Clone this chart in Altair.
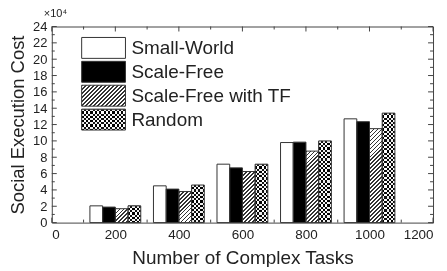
import altair as alt
import pandas as pd

# ---------------- data (values in units of 10^4) ----------------
tasks = [200, 400, 600, 800, 1000]
series = ["Small-World", "Scale-Free", "Scale-Free with TF", "Random"]
small_world = [2.05, 4.5, 7.15, 9.8, 12.7]
scale_free = [1.9, 4.1, 6.7, 9.85, 12.35]
scale_free_tf = [1.7, 3.8, 6.25, 8.75, 11.5]
random_net = [2.05, 4.6, 7.15, 10.0, 13.4]

x_ticks = [0, 200, 400, 600, 800, 1000, 1200]
x_minor = [100, 300, 500, 700, 900, 1100]
y_ticks = [0, 2, 4, 6, 8, 10, 12, 14, 16, 18, 20, 22, 24]
y_minor = [1, 3, 5, 7, 9, 11, 13, 15, 17, 19, 21, 23]

# ---------------- layout / style ----------------
W, H = 383, 197
X_DOMAIN = [0, 1200]
Y_DOMAIN = [0, 24]
BAR = 40  # bar width in task units
FONT = "Liberation Sans"
TXT = "#222222"
LINE = "#444444"
EDGE = "#333333"

values = [small_world, scale_free, scale_free_tf, random_net]
rows = []
for i, name in enumerate(series):
    for j, t in enumerate(tasks):
        x0 = t - 2 * BAR + i * BAR
        rows.append({"series": name, "task": t, "value": values[i][j],
                     "x0": x0, "x1": x0 + BAR})
df = pd.DataFrame(rows)

xs = alt.Scale(domain=X_DOMAIN, nice=False, zero=False)
ys = alt.Scale(domain=Y_DOMAIN, nice=False)

XAX = alt.Axis(values=x_ticks, format="d", title="Number of Complex Tasks",
               ticks=False, tickSize=0, domain=False, grid=False,
               labelFont=FONT, labelFontSize=13.5, labelColor=TXT, labelPadding=5,
               titleFont=FONT, titleFontSize=19, titleFontWeight="normal",
               titleColor=TXT, titlePadding=8)
YAX = alt.Axis(values=y_ticks, format="d", title="Social Execution Cost",
               ticks=False, tickSize=0, domain=False, grid=False,
               labelFont=FONT, labelFontSize=13, labelColor=TXT, labelPadding=5,
               titleFont=FONT, titleFontSize=18.5, titleFontWeight="normal",
               titleColor=TXT, titlePadding=5)

bar_w_px = BAR * W / (X_DOMAIN[1] - X_DOMAIN[0])


def stripe_stops(length, period, duty, on, off):
    stops = []
    pos = 0.0
    while pos < length - 1e-9:
        a = pos / length
        b = min(pos + duty * period, length) / length
        c = min(pos + period, length) / length
        stops += [(a, on), (b, on), (b, off), (c, off)]
        pos += period
    return stops


def grad(x2, y2, stops):
    return alt.LinearGradient(
        gradient="linear", x1=0, y1=0, x2=x2, y2=y2,
        stops=[alt.GradientStop(offset=round(o, 5), color=c) for o, c in stops])


def diag_fill(w, h):
    L = w + h
    k = L / (w * w + h * h)
    return grad(w * k, h * k, stripe_stops(L, 4.0, 0.42, "#333333", "#ffffff"))


CELL = 2.2


def hstripe_fill(h):
    return grad(0, 1, stripe_stops(h, 2 * CELL, 0.5, "#111111", "#ffffff"))


def vstripe_fill(w):
    return grad(1, 0, stripe_stops(w, 2 * CELL, 0.5, "#ffffff", "rgba(255,255,255,0)"))


def bars(data, **mark_kw):
    return alt.Chart(data).mark_bar(**mark_kw).encode(
        x=alt.X("x0:Q", scale=xs, axis=XAX),
        x2="x1:Q",
        y=alt.Y("value:Q", scale=ys, axis=YAX),
        y2=alt.datum(0),
    )


layers = []

# tick marks (inward, on all four sides)
for vals, size in ((y_ticks, 5), (y_minor, 3)):
    tdf = pd.DataFrame({"v": vals})
    for xa, xb in ((0, size), (W - size, W)):
        layers.append(alt.Chart(tdf).mark_rule(color=LINE, strokeWidth=1).encode(
            y=alt.Y("v:Q", scale=ys, axis=YAX), x=alt.value(xa), x2=alt.value(xb)))
for vals, size in ((x_ticks, 5), (x_minor, 3)):
    tdf = pd.DataFrame({"v": vals})
    for ya, yb in ((H - size, H), (0, size)):
        layers.append(alt.Chart(tdf).mark_rule(color=LINE, strokeWidth=1).encode(
            x=alt.X("v:Q", scale=xs, axis=XAX), y=alt.value(ya), y2=alt.value(yb)))

# Small-World (white)
layers.append(bars(df[df.series == series[0]], fill="#ffffff"))
# Scale-Free (black)
layers.append(bars(df[df.series == series[1]], fill="#000000"))
# Scale-Free with TF (diagonal hatch) - one layer per bar
for _, r in df[df.series == series[2]].iterrows():
    h = r["value"] * H / (Y_DOMAIN[1] - Y_DOMAIN[0])
    layers.append(bars(pd.DataFrame([r]), fill=diag_fill(bar_w_px, h)))
# Random (checker): horizontal stripes per bar + vertical stripes with difference blend
for _, r in df[df.series == series[3]].iterrows():
    h = r["value"] * H / (Y_DOMAIN[1] - Y_DOMAIN[0])
    layers.append(bars(pd.DataFrame([r]), fill=hstripe_fill(h)))
layers.append(bars(df[df.series == series[3]], fill=vstripe_fill(bar_w_px), blend="difference"))
# outlines
layers.append(bars(df, fillOpacity=0, stroke=EDGE, strokeWidth=1))

# ---------------- legend (inside plot, upper left) ----------------
SW_X0, SW_X1, SW_H = 30, 74, 21
row_tops = [11, 35, 59, 83]


def swatch(top, **mark_kw):
    return alt.Chart(alt.Data(values=[{"k": 0}])).mark_bar(**mark_kw).encode(
        x=alt.value(SW_X0), x2=alt.value(SW_X1),
        y=alt.value(top), y2=alt.value(top + SW_H))


sw_w = SW_X1 - SW_X0
layers.append(swatch(row_tops[0], fill="#ffffff"))
layers.append(swatch(row_tops[1], fill="#000000"))
layers.append(swatch(row_tops[2], fill=diag_fill(sw_w, SW_H)))
layers.append(swatch(row_tops[3], fill=hstripe_fill(SW_H)))
layers.append(swatch(row_tops[3], fill=vstripe_fill(sw_w), blend="difference"))
for top in row_tops:
    layers.append(swatch(top, fillOpacity=0, stroke=EDGE, strokeWidth=1))
for name, top in zip(series, row_tops):
    layers.append(alt.Chart(alt.Data(values=[{"label": name}])).mark_text(
        align="left", baseline="middle", font=FONT, fontSize=19, color=TXT).encode(
        x=alt.value(SW_X1 + 6), y=alt.value(top + SW_H / 2 + 0.5), text="label:N"))

# exponent note
layers.append(alt.Chart(alt.Data(values=[{"label": "\u00d710\u2074"}])).mark_text(
    align="left", baseline="middle", font=FONT, fontSize=11, color=TXT).encode(
    x=alt.value(-8), y=alt.value(-13), text="label:N"))

chart = alt.layer(*layers).properties(
    width=W, height=H,
    padding={"left": 44, "top": 18, "right": 6, "bottom": 44},
    autosize=alt.AutoSizeParams(type="none"),
).configure(background="white").configure_view(stroke=LINE, strokeWidth=1)

chart.save("out.html", embed_options={"renderer": "svg", "actions": False})
